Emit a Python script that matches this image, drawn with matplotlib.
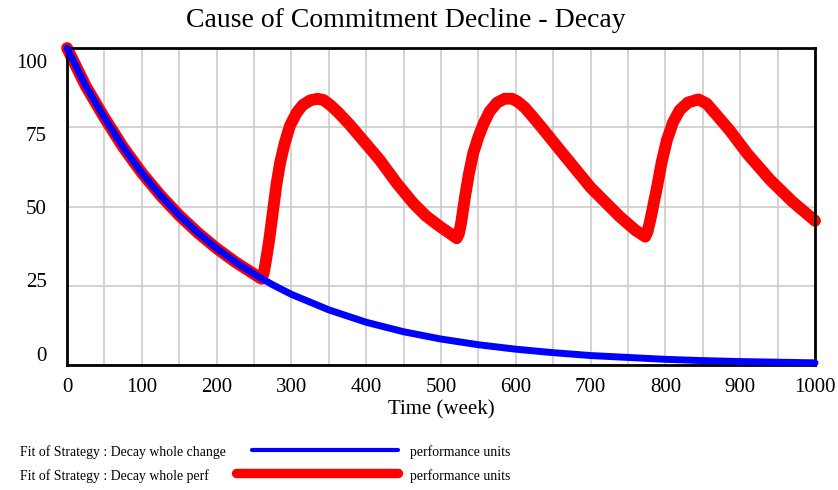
import matplotlib.pyplot as plt
from matplotlib.lines import Line2D
from matplotlib.transforms import blended_transform_factory

plt.rcParams['font.family'] = ['Liberation Serif', 'DejaVu Serif']

# Decay whole change (blue)
weeks_change = [0, 25, 50, 75, 100, 125, 150, 175, 200, 225, 250, 275, 300,
                350, 400, 450, 500, 550, 600, 650, 700, 750, 800, 850, 900, 950, 1000]
change = [100, 88, 78, 68.7, 60.6, 53.5, 47.2, 41.7, 36.8, 32.5, 28.7, 25.3, 22.3,
          17.4, 13.5, 10.5, 8.2, 6.4, 5.0, 3.9, 3.0, 2.4, 1.8, 1.4, 1.1, 0.9, 0.7]

# Decay whole perf (red)
weeks_perf = [0, 25, 50, 75, 100, 125, 150, 175, 200, 225, 250, 260,
              263, 266, 270, 275, 280, 285, 291, 298, 307, 315, 325, 335, 343, 352, 362,
              378, 418, 441, 463, 480, 499, 512, 521,
              524, 527, 532, 537, 543, 550, 557, 565, 575, 585, 595, 603, 612, 622, 635,
              659, 700, 739, 760, 773,
              776, 780, 788, 795, 802, 810, 819, 830, 844, 855, 866, 886, 910, 940, 970, 1000]
perf = [100, 88, 78, 68.7, 60.6, 53.5, 47.2, 41.7, 36.8, 32.5, 28.7, 27.2,
        29, 33, 39, 48, 57, 64, 70, 75.5, 79.6, 82, 83.5, 84, 83.6, 82, 79.8,
        75.8, 64.7, 57.3, 51, 47, 43.6, 41.5, 40,
        41.5, 45, 53, 60, 66.8, 72, 76.2, 80, 82.8, 84, 84, 83, 81.2, 78.5, 74.8,
        67.8, 56, 46.8, 42.5, 40.5,
        42, 46, 55.2, 64, 71, 76.5, 80.4, 82.8, 83.8, 82.5, 79.5, 74, 66.5, 58.4, 51.5, 45.5]

x_ticks = [0, 100, 200, 300, 400, 500, 600, 700, 800, 900, 1000]
y_ticks = [0, 25, 50, 75, 100]

fig = plt.figure(figsize=(8.38, 4.9), dpi=100)
ax = fig.add_axes([0.080, 0.255, 0.8926, 0.647])

ax.plot(weeks_perf, perf, color='#ff0000', lw=8.5, solid_capstyle='round',
        solid_joinstyle='round', zorder=2, clip_on=False)
ax.plot(weeks_change, change, color='#0000ff', lw=5, solid_capstyle='round',
        solid_joinstyle='round', zorder=3, clip_on=False)

ax.set_xlim(0, 1000)
ax.set_ylim(0, 100)
ax.set_xticks(range(50, 1000, 50), minor=True)
ax.set_xticks(x_ticks)
ax.set_xticklabels([str(t) for t in x_ticks], fontsize=15)
ax.set_yticks(y_ticks)
ax.set_yticklabels([])
ax.tick_params(axis='both', which='both', length=0)
ax.tick_params(axis='x', pad=9)
ax.grid(True, which='both', axis='x', color='#cccccc', lw=1.2)
ax.grid(True, axis='y', color='#cccccc', lw=1.2)
for s in ax.spines.values():
    s.set_linewidth(2)
    s.set_color('black')

# Vensim-style y labels, squeezed inside the axis range
tr = blended_transform_factory(ax.transAxes, ax.transData)
for v in y_ticks:
    ax.text(-0.027, 2.8 + v * 0.924, str(v), transform=tr, ha='right', va='center',
            fontsize=15)

ax.set_xlabel('Time (week)', fontsize=15, labelpad=3)
fig.text(0.4845, 0.958, 'Cause of Commitment Decline - Decay', ha='center', va='center',
         fontsize=20)

# legend
fs_leg = 9.9
fig.text(20 / 838, 1 - 452 / 490, 'Fit of Strategy : Decay whole change',
         ha='left', va='center', fontsize=fs_leg)
fig.text(20 / 838, 1 - 476 / 490, 'Fit of Strategy : Decay whole perf',
         ha='left', va='center', fontsize=fs_leg)
fig.add_artist(Line2D([252 / 838, 398 / 838], [1 - 450 / 490] * 2, color='#0000ff',
                      lw=3, solid_capstyle='round'))
fig.add_artist(Line2D([236 / 838, 398 / 838], [1 - 473 / 490] * 2, color='#ff0000',
                      lw=6.8, solid_capstyle='round'))
fig.text(410 / 838, 1 - 452 / 490, 'performance units', ha='left', va='center',
         fontsize=fs_leg)
fig.text(410 / 838, 1 - 476 / 490, 'performance units', ha='left', va='center',
         fontsize=fs_leg)

fig.savefig('out.png', dpi=100)
